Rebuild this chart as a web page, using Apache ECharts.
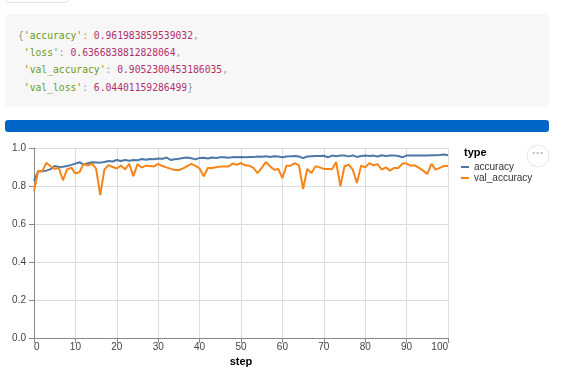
<!DOCTYPE html>
<html>
<head>
<meta charset="utf-8">
<script src="https://cdn.jsdelivr.net/npm/echarts@6/dist/echarts.min.js"></script>
<style>
  html, body { margin: 0; padding: 0; background: #fff; }
  body { width: 567px; height: 371px; position: relative; overflow: hidden; }
  #topbox { position: absolute; left: 5px; top: -20px; width: 62px; height: 21px; border: 1px solid #e2e2e2; border-radius: 4px; }
  #code { position: absolute; left: 5px; top: 14px; width: 544px; height: 93px; background: #f7f7f7; border-radius: 4px; }
  #code pre { margin: 0; position: absolute; left: 13px; top: 13px; font-family: "DejaVu Sans Mono", "Liberation Mono", monospace; font-size: 9.7px; line-height: 17.2px; color: #999; }
  .k { color: #6a9a22; }
  .n { color: #b0306e; }
  #bar { position: absolute; left: 5px; top: 120px; width: 544px; height: 12px; background: #0066c8; border-radius: 3px; }
  #chart { position: absolute; left: 0; top: 0; width: 567px; height: 371px; }
</style>
</head>
<body>
<div id="topbox"></div>
<div id="code"><pre>{<span class="k">'accuracy'</span>: <span class="n">0.961983859539032</span>,
 <span class="k">'loss'</span>: <span class="n">0.6366838812828064</span>,
 <span class="k">'val_accuracy'</span>: <span class="n">0.9052300453186035</span>,
 <span class="k">'val_loss'</span>: <span class="n">6.04401159286499</span>}</pre></div>
<div id="bar"></div>
<div id="chart"></div>
<script>
const seriesNames = ['accuracy', 'val_accuracy'];
const accuracy = [
  0.828, 0.877, 0.877, 0.881, 0.889, 0.905, 0.900, 0.901, 0.905, 0.911,
  0.918, 0.925, 0.913, 0.920, 0.925, 0.924, 0.923, 0.926, 0.932, 0.929,
  0.937, 0.932, 0.937, 0.933, 0.937, 0.935, 0.942, 0.938, 0.942, 0.941,
  0.945, 0.943, 0.950, 0.937, 0.941, 0.943, 0.947, 0.950, 0.946, 0.940,
  0.948, 0.949, 0.945, 0.950, 0.947, 0.951, 0.951, 0.949, 0.952, 0.951,
  0.953, 0.951, 0.953, 0.952, 0.955, 0.954, 0.956, 0.953, 0.956, 0.955,
  0.951, 0.955, 0.956, 0.958, 0.955, 0.947, 0.955, 0.957, 0.958, 0.958,
  0.959, 0.951, 0.960, 0.957, 0.960, 0.961, 0.956, 0.961, 0.953, 0.958,
  0.961, 0.958, 0.960, 0.955, 0.962, 0.958, 0.961, 0.960, 0.958, 0.951,
  0.961, 0.961, 0.960, 0.961, 0.961, 0.960, 0.962, 0.962, 0.963, 0.966,
  0.962
];
const valAccuracy = [
  0.775, 0.878, 0.878, 0.922, 0.904, 0.890, 0.895, 0.830, 0.887, 0.897,
  0.866, 0.874, 0.918, 0.907, 0.918, 0.892, 0.752, 0.887, 0.910, 0.900,
  0.892, 0.908, 0.888, 0.917, 0.852, 0.915, 0.897, 0.907, 0.905, 0.903,
  0.916, 0.905, 0.898, 0.890, 0.884, 0.884, 0.893, 0.905, 0.916, 0.906,
  0.892, 0.851, 0.895, 0.895, 0.899, 0.902, 0.902, 0.903, 0.918, 0.912,
  0.921, 0.909, 0.907, 0.895, 0.868, 0.895, 0.926, 0.904, 0.886, 0.890,
  0.842, 0.907, 0.907, 0.920, 0.909, 0.784, 0.890, 0.868, 0.904, 0.898,
  0.890, 0.890, 0.888, 0.926, 0.798, 0.904, 0.912, 0.886, 0.816, 0.907,
  0.898, 0.920, 0.909, 0.915, 0.886, 0.898, 0.881, 0.895, 0.895, 0.918,
  0.918, 0.907, 0.909, 0.895, 0.881, 0.863, 0.916, 0.886, 0.895, 0.905,
  0.905
];
const steps = accuracy.map((_, i) => i);
const xTicks = { min: 0, max: 100, interval: 10 };
const yTicks = { min: 0, max: 1, interval: 0.2 };

const chart = echarts.init(document.getElementById('chart'), null, { renderer: 'canvas' });
const sansFont = '"Liberation Sans", Arial, sans-serif';
const axisCommon = {
  axisLine: { show: true, lineStyle: { color: '#888', width: 1 } },
  axisTick: { show: true, length: 5, lineStyle: { color: '#888', width: 1 } },
  splitLine: { show: true, lineStyle: { color: '#ddd', width: 1 } },
  nameTextStyle: { fontFamily: sansFont, fontSize: 11, fontWeight: 'bold', color: '#000' }
};
chart.setOption({
  animation: false,
  backgroundColor: 'transparent',
  color: ['#4c78a8', '#f58518'],
  grid: { left: 34, top: 148, width: 414, height: 190, containLabel: false, outerBoundsMode: 'none' },
  title: {
    text: 'type', left: 459, top: 142,
    textStyle: { fontFamily: sansFont, fontSize: 11, fontWeight: 'bold', color: '#000' }
  },
  legend: {
    orient: 'vertical', left: 456, top: 160, padding: [2, 5, 2, 5],
    icon: 'rect', itemWidth: 8, itemHeight: 2, itemGap: 1,
    textStyle: { fontFamily: sansFont, fontSize: 10, color: '#333' },
    data: seriesNames
  },
  xAxis: Object.assign({}, axisCommon, {
    type: 'value', min: xTicks.min, max: xTicks.max, interval: xTicks.interval,
    name: 'step', nameLocation: 'middle', nameGap: 17,
    axisLabel: { fontFamily: sansFont, fontSize: 10, color: '#444', margin: 4,
      alignMinLabel: 'left', alignMaxLabel: 'right' }
  }),
  yAxis: Object.assign({}, axisCommon, {
    type: 'value', min: yTicks.min, max: yTicks.max, interval: yTicks.interval,
    name: 'value', nameLocation: 'middle', nameGap: 24,
    axisLabel: { fontFamily: sansFont, fontSize: 10, color: '#444', margin: 8,
      formatter: v => v.toFixed(1) }
  }),
  graphic: [
    { type: 'circle', shape: { cx: 538, cy: 156, r: 11 },
      style: { fill: '#fff', stroke: '#e6e6e6', lineWidth: 1 } },
    { type: 'text', x: 538, y: 154,
      style: { text: '···', fill: '#b5b5b5', fontSize: 12, fontWeight: 'bold', fontFamily: sansFont, align: 'center', verticalAlign: 'middle' } }
  ],
  series: [
    { name: seriesNames[0], type: 'line', showSymbol: false, lineStyle: { width: 2 },
      data: steps.map(i => [i, accuracy[i]]) },
    { name: seriesNames[1], type: 'line', showSymbol: false, lineStyle: { width: 2 },
      data: steps.map(i => [i, valAccuracy[i]]) }
  ]
});
</script>
</body>
</html>
